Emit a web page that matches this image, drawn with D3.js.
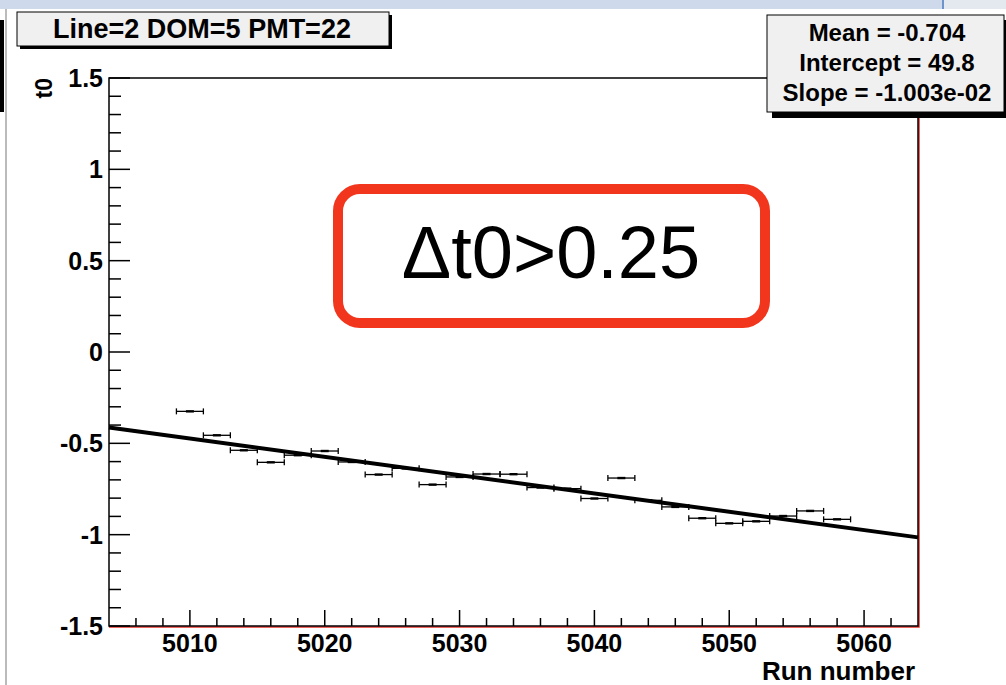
<!DOCTYPE html>
<html>
<head>
<meta charset="utf-8">
<script src="https://cdn.jsdelivr.net/npm/d3@7"></script>
<style>
  html, body { margin: 0; padding: 0; background: #fff; }
  svg { display: block; }
  text { font-family: "Liberation Sans", Arial, Helvetica, sans-serif; }
</style>
</head>
<body>
<svg width="1006" height="685"></svg>
<script>
(function(){
	'use strict';

	const runs = [5010, 5012, 5014, 5016, 5018, 5020, 5022, 5024, 5026, 5028,
		5030, 5032, 5034, 5036, 5038, 5040, 5042, 5044, 5046, 5048,
		5050, 5052, 5054, 5056, 5058];
	const t0 = [-0.325, -0.456, -0.538, -0.604, -0.565, -0.542, -0.602, -0.671, -0.637, -0.726,
		-0.684, -0.668, -0.669, -0.742, -0.748, -0.802, -0.690, -0.812, -0.848, -0.910,
		-0.938, -0.927, -0.898, -0.870, -0.916];
	const runErr = 1;

	const fitIntercept = 49.777;
	const fitSlope = -1.003e-02;
	const statLines = ['Mean = -0.704', 'Intercept = 49.8', 'Slope = -1.003e-02'];
	const title = 'Line=2 DOM=5 PMT=22';

	const xDomain = [5004, 5064];
	const yDomain = [-1.5, 1.5];
	const xMajor = [5010, 5020, 5030, 5040, 5050, 5060];
	const yMajor = [-1.5, -1, -0.5, 0, 0.5, 1, 1.5];

	const svg = d3.select('svg');
	const left = 109, right = 918, top = 78, bottom = 626;

	const x = d3.scaleLinear().domain(xDomain).range([left, right]);
	const y = d3.scaleLinear().domain(yDomain).range([bottom, top]);

	// window chrome bits around the canvas
	svg.append('rect').attr('x', 0).attr('y', 0).attr('width', 1006).attr('height', 9).attr('fill', '#cfd9ec');
	svg.append('rect').attr('x', 944).attr('y', 0).attr('width', 62).attr('height', 9).attr('fill', '#e4e8ef');
	svg.append('rect').attr('x', 942).attr('y', 0).attr('width', 2).attr('height', 9).attr('fill', '#6f94cc');
	svg.append('rect').attr('x', 0).attr('y', 20).attr('width', 4).attr('height', 92).attr('fill', '#000');
	svg.append('rect').attr('x', 5).attr('y', 9).attr('width', 2).attr('height', 676).attr('fill', '#bbb');

	// red outline hugging the frame
	svg.append('path')
		.attr('d', `M${right + 1},${top + 40}V${bottom + 1}H${left}`)
		.attr('fill', 'none')
		.attr('stroke', '#e8312a')
		.attr('stroke-width', 1.5);

	// frame
	svg.append('rect')
		.attr('x', left).attr('y', top)
		.attr('width', right - left).attr('height', bottom - top)
		.attr('fill', 'none')
		.attr('stroke', '#000')
		.attr('stroke-width', 1.5);

	// y ticks
	const yMinor = d3.range(-15, 16).map(d => d / 10);
	svg.append('g').selectAll('line').data(yMinor).join('line')
		.attr('x1', left)
		.attr('x2', d => left + (yMajor.some(m => Math.abs(m - d) < 1e-9) ? 21 : 12))
		.attr('y1', d => y(d)).attr('y2', d => y(d))
		.attr('stroke', '#000').attr('stroke-width', 1.5);

	svg.append('g').selectAll('text').data(yMajor).join('text')
		.attr('x', left - 6)
		.attr('y', d => y(d))
		.attr('dy', '0.36em')
		.attr('text-anchor', 'end')
		.attr('font-size', 25)
		.attr('font-weight', 'bold')
		.text(d => String(d));

	// x ticks
	const xMinor = d3.range(5006, 5064, 2);
	svg.append('g').selectAll('line').data(xMinor).join('line')
		.attr('x1', d => x(d)).attr('x2', d => x(d))
		.attr('y1', bottom)
		.attr('y2', d => bottom - (d % 10 === 0 ? 16 : 8))
		.attr('stroke', '#000').attr('stroke-width', 1.5);

	svg.append('g').selectAll('text').data(xMajor).join('text')
		.attr('x', d => x(d))
		.attr('y', 652)
		.attr('text-anchor', 'middle')
		.attr('font-size', 25)
		.attr('font-weight', 'bold')
		.text(d => d);

	// axis titles
	svg.append('text')
		.attr('x', right - 3).attr('y', 680)
		.attr('text-anchor', 'end')
		.attr('font-size', 26)
		.attr('font-weight', 'bold')
		.text('Run number');

	svg.append('text')
		.attr('transform', `translate(52, ${top}) rotate(-90)`)
		.attr('text-anchor', 'end')
		.attr('font-size', 23)
		.attr('font-weight', 'bold')
		.text('t0');

	// data points with horizontal errors
	const pts = runs.map((r, i) => ({ r: r, v: t0[i] }));
	const ptG = svg.append('g').selectAll('g').data(pts).join('g');
	ptG.append('line')
		.attr('x1', d => x(d.r - runErr)).attr('x2', d => x(d.r + runErr))
		.attr('y1', d => y(d.v)).attr('y2', d => y(d.v))
		.attr('stroke', '#000').attr('stroke-width', 1.3);
	ptG.append('line')
		.attr('x1', d => x(d.r) - 4).attr('x2', d => x(d.r) + 4)
		.attr('y1', d => y(d.v)).attr('y2', d => y(d.v))
		.attr('stroke', '#000').attr('stroke-width', 2.4);
	[-runErr, runErr].forEach(off => {
		ptG.append('line')
			.attr('x1', d => x(d.r + off)).attr('x2', d => x(d.r + off))
			.attr('y1', d => y(d.v) - 3).attr('y2', d => y(d.v) + 3)
			.attr('stroke', '#000').attr('stroke-width', 1.3);
	});

	// fit line
	const fit = d3.line().x(d => x(d)).y(d => y(fitIntercept + fitSlope * d));
	svg.append('path')
		.attr('d', fit(xDomain))
		.attr('fill', 'none')
		.attr('stroke', '#000')
		.attr('stroke-width', 4);

	// title box
	svg.append('rect').attr('x', 20).attr('y', 15).attr('width', 372).attr('height', 34).attr('fill', '#000');
	svg.append('rect')
		.attr('x', 17).attr('y', 12).attr('width', 372).attr('height', 34)
		.attr('fill', '#f0f0f0').attr('stroke', '#000').attr('stroke-width', 1);
	svg.append('text')
		.attr('x', 202).attr('y', 38)
		.attr('text-anchor', 'middle')
		.attr('font-size', 27)
		.attr('font-weight', 'bold')
		.text(title);

	// stats box
	svg.append('rect').attr('x', 772).attr('y', 20).attr('width', 240).attr('height', 98).attr('fill', '#000');
	svg.append('rect')
		.attr('x', 767).attr('y', 15).attr('width', 237).attr('height', 97)
		.attr('fill', '#f0f0f0').attr('stroke', '#000').attr('stroke-width', 1);
	svg.append('g').selectAll('text').data(statLines).join('text')
		.attr('x', 887)
		.attr('y', (d, i) => 41 + i * 30)
		.attr('text-anchor', 'middle')
		.attr('font-size', 24)
		.attr('font-weight', 'bold')
		.text(d => d);

	// annotation
	svg.append('rect')
		.attr('x', 338).attr('y', 189).attr('width', 427).attr('height', 134)
		.attr('rx', 22).attr('ry', 22)
		.attr('fill', '#fff')
		.attr('stroke', '#f2361d')
		.attr('stroke-width', 10);
	svg.append('text')
		.attr('x', 551).attr('y', 278)
		.attr('text-anchor', 'middle')
		.attr('font-size', 74)
		.text('Δt0>0.25');
})();
</script>
</body>
</html>
